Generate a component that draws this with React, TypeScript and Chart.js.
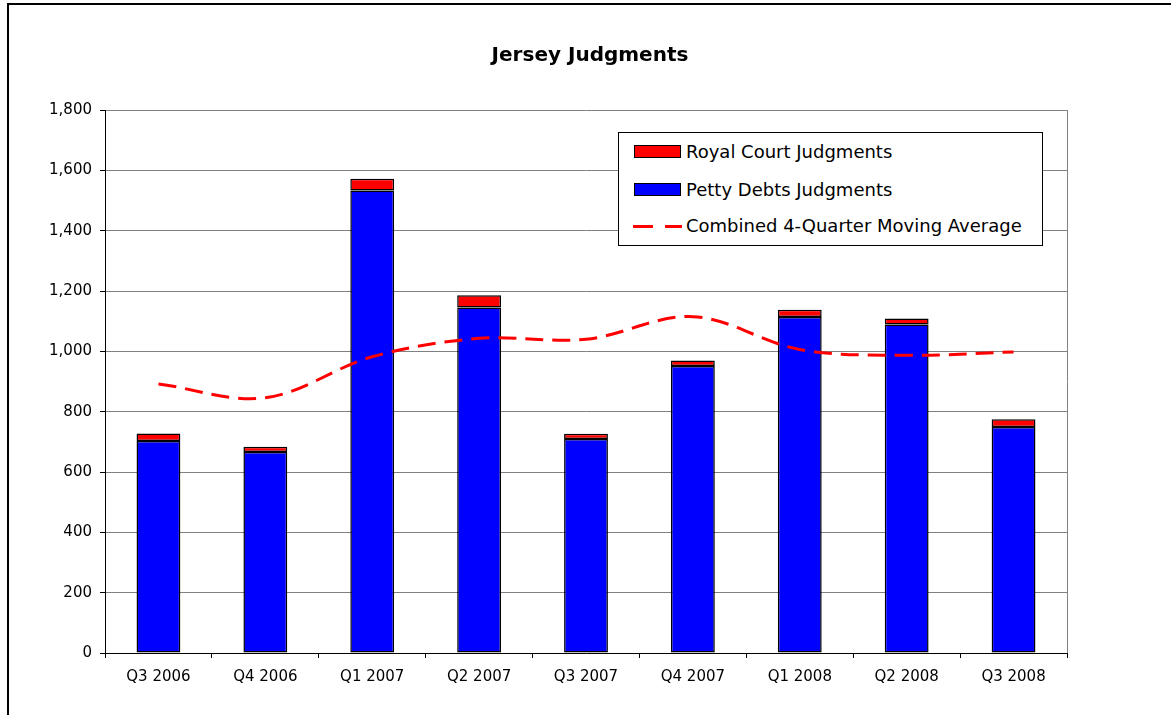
import React, { useEffect, useRef } from "react";
import { Chart, registerables } from "chart.js";

Chart.register(...registerables);

const categories = ["Q3 2006", "Q4 2006", "Q1 2007", "Q2 2007", "Q3 2007", "Q4 2007", "Q1 2008", "Q2 2008", "Q3 2008"];
const pettyDebts = [703, 666, 1533, 1145, 709, 951, 1114, 1089, 749];
const royalCourt = [25, 18, 39, 41, 18, 19, 24, 20, 26];
const movingAverage = [892, 846, 982, 1043, 1040, 1115, 1006, 987, 998];
const yTicks = [0, 200, 400, 600, 800, 1000, 1200, 1400, 1600, 1800];

const FONT = "'DejaVu Sans', Verdana, sans-serif";

const plotBorder = {
  id: "plotBorder",
  beforeDatasetsDraw(chart: any) {
    const { ctx, chartArea } = chart;
    ctx.save();
    ctx.strokeStyle = "#808080";
    ctx.lineWidth = 1;
    ctx.beginPath();
    ctx.moveTo(Math.round(chartArea.right) + 0.5, chartArea.top);
    ctx.lineTo(Math.round(chartArea.right) + 0.5, chartArea.bottom);
    ctx.stroke();
    ctx.restore();
  },
};

export default function App() {
  const canvasRef = useRef<HTMLCanvasElement | null>(null);

  useEffect(() => {
    if (!canvasRef.current) return;
    const chart = new Chart(canvasRef.current, {
      type: "bar",
      data: {
        labels: categories,
        datasets: [
          {
            type: "line",
            label: "Combined 4-Quarter Moving Average",
            data: movingAverage,
            borderColor: "#ff0000",
            borderWidth: 3,
            borderDash: [18, 9],
            pointRadius: 0,
            tension: 0.35,
            fill: false,
            stack: "ma",
            order: 0,
          } as any,
          {
            type: "bar",
            label: "Petty Debts Judgments",
            data: pettyDebts,
            backgroundColor: "#0000ff",
            borderColor: "#000000",
            borderWidth: 1.5,
            borderSkipped: false,
            stack: "j",
            order: 1,
          },
          {
            type: "bar",
            label: "Royal Court Judgments",
            data: royalCourt,
            backgroundColor: "#ff0000",
            borderColor: "#000000",
            borderWidth: 1.5,
            borderSkipped: false,
            stack: "j",
            order: 1,
          },
        ],
      },
      options: {
        animation: false,
        responsive: false,
        layout: { padding: { top: 110, right: 104, left: 0, bottom: 0 } },
        datasets: {
          bar: { categoryPercentage: 1, barPercentage: 0.41 },
        },
        plugins: {
          legend: { display: false },
          title: { display: false },
          tooltip: { enabled: false },
        },
        scales: {
          x: {
            stacked: true,
            offset: true,
            grid: {
              display: true,
              drawOnChartArea: false,
              drawTicks: true,
              tickLength: 5,
              tickColor: "#000000",
              offset: true,
            },
            border: { display: true, color: "#000000", width: 1 },
            ticks: {
              color: "#000000",
              font: { family: FONT, size: 15 },
              padding: 10,
              maxRotation: 0,
              autoSkip: false,
            },
            afterFit(scale: any) {
              scale.height = 62;
            },
          },
          y: {
            stacked: true,
            min: 0,
            max: 1800,
            afterBuildTicks(scale: any) {
              scale.ticks = yTicks.map((v) => ({ value: v }));
            },
            grid: {
              color: "#808080",
              lineWidth: 1,
              drawTicks: true,
              tickLength: 5,
              tickColor: "#000000",
            },
            border: { display: true, color: "#000000", width: 1 },
            ticks: {
              color: "#000000",
              font: { family: FONT, size: 15 },
              padding: 8,
              callback: (v: any) => Number(v).toLocaleString("en-US"),
            },
            afterFit(scale: any) {
              scale.width = 105;
            },
          },
        },
      },
      plugins: [plotBorder],
    });
    return () => chart.destroy();
  }, []);

  const legendText: React.CSSProperties = {
    position: "absolute",
    left: 686,
    fontFamily: FONT,
    fontSize: 18,
    lineHeight: "22px",
    color: "#000",
    whiteSpace: "nowrap",
  };

  return (
    <div
      style={{
        position: "fixed",
        left: 0,
        top: 0,
        width: 1171,
        height: 715,
        overflow: "hidden",
        background: "#fff",
      }}
    >
      <div
        style={{
          position: "absolute",
          left: 7,
          top: 3,
          width: 1300,
          height: 900,
          border: "2px solid #000",
          boxSizing: "border-box",
        }}
      />
      <canvas
        ref={canvasRef}
        width={1171}
        height={715}
        style={{ position: "absolute", left: 0, top: 0, display: "block" }}
      />
      <div
        style={{
          position: "absolute",
          left: 0,
          width: 1180,
          top: 42,
          textAlign: "center",
          fontFamily: FONT,
          fontWeight: "bold",
          fontSize: 20,
          lineHeight: "24px",
          color: "#000",
        }}
      >
        Jersey Judgments
      </div>
      <div
        style={{
          position: "absolute",
          left: 618,
          top: 132,
          width: 425,
          height: 114,
          border: "1px solid #000",
          background: "#fff",
          boxSizing: "border-box",
        }}
      />
      <div style={{ position: "absolute", left: 634, top: 145, width: 47, height: 13, background: "#ff0000", border: "1px solid #000", boxSizing: "border-box" }} />
      <div style={{ ...legendText, top: 141 }}>Royal Court Judgments</div>
      <div style={{ position: "absolute", left: 634, top: 183, width: 47, height: 13, background: "#0000ff", border: "1px solid #000", boxSizing: "border-box" }} />
      <div style={{ ...legendText, top: 179 }}>Petty Debts Judgments</div>
      <div style={{ position: "absolute", left: 633, top: 225, width: 20, height: 3, background: "#ff0000" }} />
      <div style={{ position: "absolute", left: 665, top: 225, width: 17, height: 3, background: "#ff0000" }} />
      <div style={{ ...legendText, top: 215 }}>Combined 4-Quarter Moving Average</div>
    </div>
  );
}
